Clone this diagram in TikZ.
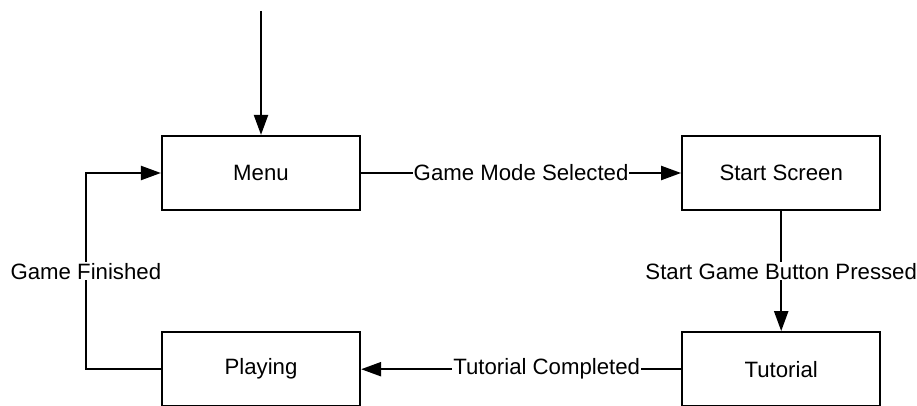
\documentclass[tikz,border=0pt]{standalone}
\usepackage{fontspec}
\setmainfont{Liberation Sans}
\usetikzlibrary{arrows.meta, positioning}

\begin{document}
\begin{tikzpicture}[
  x=1pt, y=1pt,
  node distance=120pt and 320pt,
  font=\fontsize{22.2}{25}\selectfont,
  state/.style={draw, line width=2.2pt, minimum width=198pt, minimum height=74pt, inner sep=0pt},
  arrow/.style={line width=2.2pt, -{Triangle[length=20pt, width=14pt]}},
  tag/.style={fill=white, inner sep=1pt}
]
\useasboundingbox (0,0) rectangle (917,-406);

% Nodes
\node[state] (menu) at (261,-173) {Menu};
\node[state] (startscreen) [right=of menu] {Start Screen};
\node[state] (tutorial) [below=of startscreen] {Tutorial};
\node[state] (playing) [below=of menu] {Playing};
\coordinate[above=124pt of menu.north] (entry);

% Arrows
\draw [arrow] (entry) -- (menu);
\draw [arrow] (menu) -- node[tag] {Game Mode Selected} (startscreen);
\draw [arrow] (startscreen) -- node[tag] {Start Game Button Pressed} (tutorial);
\draw [arrow] (tutorial) -- node[tag, pos=0.42] {Tutorial Completed} (playing);
\draw [arrow] (playing.west) -- ++(-75,0) |- node[tag, pos=0.25] {Game Finished} (menu.west);

\end{tikzpicture}
\end{document}
